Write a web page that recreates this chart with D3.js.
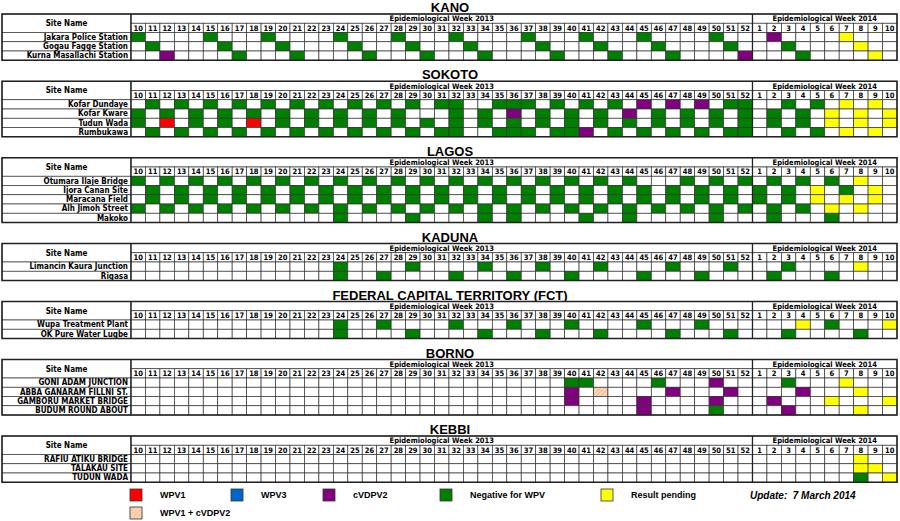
<!DOCTYPE html>
<html>
<head>
<meta charset="utf-8">
<script src="https://cdn.jsdelivr.net/npm/d3@7"></script>
<style>
  body { margin: 0; background: #fff; }
  svg { display: block; }
  .tbl { font-family: "Liberation Sans Narrow", "Arial Narrow", "DejaVu Sans Condensed", sans-serif; font-weight: bold; fill: #000; }
  .title { font-family: "Liberation Sans", Arial, sans-serif; font-weight: bold; font-size: 13px; }
  .leg { font-family: "Liberation Sans", Arial, sans-serif; font-weight: bold; font-size: 9px; }
</style>
</head>
<body>
<svg></svg>
<script>
// week labels
const weeks2013 = [10,11,12,13,14,15,16,17,18,19,20,21,22,23,24,25,26,27,28,29,30,31,32,33,34,35,36,37,38,39,40,41,42,43,44,45,46,47,48,49,50,51,52]
const weeks2014 = [1,2,3,4,5,6,7,8,9,10]

const states = ["KANO", "SOKOTO", "LAGOS", "KADUNA", "FEDERAL CAPITAL TERRITORY (FCT)", "BORNO", "KEBBI"]

// result codes: W1 = WPV1, W3 = WPV3, V2 = cVDPV2, N = negative, Y = pending, WV = WPV1 + cVDPV2
const kanoSites = ["Jakara Police Station", "Gogau Fagge Station", "Kurna Masallachi Station"]
const kanoResults = [
  { y13: { N: [10,15,19,24,28,32,37,41,45,50] }, y14: { V2: [2], Y: [7] } },
  { y13: { N: [11,16,20,25,29,33,38,42,46,51] }, y14: { N: [3], Y: [8] } },
  { y13: { V2: [12,52], N: [17,21,26,30,34,39,43,47] }, y14: { N: [4], Y: [9] } }
]

const sokotoSites = ["Kofar Dundaye", "Kofar Kware", "Tudun Wada", "Rumbukawa"]
const sokotoResults = [
  { y13: { N: [11,13,15,17,19,21,23,25,27,29,31,32,35,36,37,39,41,43,51,52], V2: [45,47,49] }, y14: { N: [3,5], Y: [7,9] } },
  { y13: { N: [10,12,14,16,18,20,22,24,26,28,32,34,38,40,42,46,48,50,52], V2: [36,44] }, y14: { N: [2,4], Y: [6,8,10] } },
  { y13: { N: [10,14,16,20,22,24,26,28,30,32,34,36,38,40,42,44,46,48,50,52], W1: [12,18] }, y14: { N: [2,4], Y: [6,8,10] } },
  { y13: { N: [11,13,15,17,19,21,23,25,27,29,31,32,35,36,37,39,40,43,45,47,49,51,52], V2: [41] }, y14: { N: [3,5], Y: [7,9] } }
]

const lagosSites = ["Otumara Ilaje Bridge", "Ijora Canan Site", "Maracana Field", "Alh Jimoh Street", "Makoko"]
const lagosResults = [
  { y13: { N: [10,12,14,16,18,20,22,24,26,28,30,32,34,36,38,40,42,44,48,50,52] }, y14: { N: [2,4,6], Y: [8] } },
  { y13: { N: [11,13,15,17,19,21,23,25,27,29,31,33,35,37,39,41,43,45,47,49,51] }, y14: { N: [1,3,7], Y: [5,9] } },
  { y13: { N: [11,13,15,17,19,21,23,25,27,29,31,33,35,37,39,41,43,45,47,49,51] }, y14: { N: [1,3], Y: [5,7,9] } },
  { y13: { N: [10,12,14,16,18,20,22,24,26,28,30,32,34,36,38,40,42,44,46,48,50,52] }, y14: { N: [2,4], Y: [6,8] } },
  { y13: { N: [24,29,34,36,41,44,50] }, y14: { N: [2,6] } }
]

const kadunaSites = ["Limancin Kaura Junction", "Rigasa"]
const kadunaResults = [
  { y13: { N: [24,29,34,38,42,47,51] }, y14: { N: [3], Y: [8] } },
  { y13: { N: [24,27,32,36,40,45,49] }, y14: { N: [2,6] } }
]

const fctSites = ["Wupa Treatment Plant", "OK Pure Water Lugbe"]
const fctResults = [
  { y13: { N: [24,27,32,36,40,45,49] }, y14: { Y: [4,10], N: [6] } },
  { y13: { N: [24,29,34,38,42,47,51] }, y14: { N: [3,8] } }
]

const bornoSites = ["GONI ADAM JUNCTION", "ABBA GANARAM FILLNI ST.", "GAMBORU MARKET BRIDGE", "BUDUM ROUND ABOUT"]
const bornoResults = [
  { y13: { N: [40,41,46], V2: [50] }, y14: { N: [3], Y: [7] } },
  { y13: { V2: [40,47,51], WV: [42] }, y14: { V2: [4], Y: [8] } },
  { y13: { V2: [40,45,50] }, y14: { V2: [2], Y: [6,10] } },
  { y13: { V2: [45], N: [50] }, y14: { V2: [3], Y: [8] } }
]

const kebbiSites = ["RAFIU ATIKU BRIDGE", "TALAKAU SITE", "TUDUN WADA"]
const kebbiResults = [
  { y13: {}, y14: { Y: [8] } },
  { y13: {}, y14: { Y: [8,9] } },
  { y13: {}, y14: { N: [8], Y: [10] } }
]

const legendCodes = ["W1", "W3", "V2", "N", "Y", "WV"]
const legendLabels = ["WPV1", "WPV3", "cVDPV2", "Negative for WPV", "Result pending", "WPV1 + cVDPV2"]
const updateNote = "Update:  7 March 2014"

const blocks = [
  { title: states[0], sites: kanoSites, results: kanoResults },
  { title: states[1], sites: sokotoSites, results: sokotoResults },
  { title: states[2], sites: lagosSites, results: lagosResults },
  { title: states[3], sites: kadunaSites, results: kadunaResults },
  { title: states[4], sites: fctSites, results: fctResults },
  { title: states[5], sites: bornoSites, results: bornoResults },
  { title: states[6], sites: kebbiSites, results: kebbiResults }
]

const colors = { W1: "#ff0000", W3: "#0066cc", V2: "#800080", N: "#008000", Y: "#ffff00", WV: "url(#hatch)" }
const grid = "#333"

let width = 900
let height = 521
let left = 2
let nameRight = 131
let right = 897
let rowH = 9.25
let gap = 21

let svg = d3.select("svg").attr("width", width).attr("height", height)

const defs = svg.append("defs")
const pat = defs.append("pattern")
  .attr("id", "hatch")
  .attr("patternUnits", "userSpaceOnUse")
  .attr("width", 3).attr("height", 3)
  .attr("patternTransform", "rotate(45)")
pat.append("rect").attr("width", 3).attr("height", 3).attr("fill", "#fad6b6")
pat.append("line").attr("x1", 0).attr("y1", 0).attr("x2", 0).attr("y2", 3)
  .attr("stroke", "#eaa878").attr("stroke-width", 0.8)

const cols = weeks2013.map(w => "2013-" + w).concat(weeks2014.map(w => "2014-" + w))
const xScale = d3.scaleBand().domain(cols).range([nameRight, right])
const bw = xScale.bandwidth()
const split = xScale("2014-1")

const statusOf = (res, col) => {
  const [yr, wk] = col.split("-")
  const set = yr === "2013" ? res.y13 : res.y14
  for (const k in set) if (set[k].includes(+wk)) return k
  return null
}

let blockTop = 14

blocks.forEach(b => {
  const n = b.sites.length
  const yScale = d3.scaleBand()
    .domain(["epi", "week"].concat(b.sites))
    .range([0, (n + 2) * rowH])
  const bh = yScale.bandwidth()
  const total = (n + 2) * rowH

  const g = svg.append("g").attr("transform", "translate(0," + blockTop + ")")

  g.append("text")
    .attr("class", "title")
    .attr("x", width / 2)
    .attr("y", -6.5)
    .attr("dy", "0.35em")
    .attr("text-anchor", "middle")
    .text(b.title)

  // site name header
  g.append("rect")
    .attr("x", left).attr("y", 0)
    .attr("width", nameRight - left).attr("height", 2 * bh)
    .attr("fill", "#fff").attr("stroke", grid).attr("stroke-width", 0.7)
  g.append("text")
    .attr("class", "tbl")
    .attr("x", (left + nameRight) / 2)
    .attr("y", bh)
    .attr("dy", "0.35em")
    .attr("text-anchor", "middle")
    .style("font-size", "8px")
    .text("Site Name")

  // epidemiological week headers
  const spans = [
    { label: "Epidemiological Week 2013", x0: nameRight, x1: split },
    { label: "Epidemiological Week 2014", x0: split, x1: right }
  ]
  g.selectAll(null).data(spans).join("rect")
    .attr("x", d => d.x0).attr("y", yScale("epi"))
    .attr("width", d => d.x1 - d.x0).attr("height", bh)
    .attr("fill", "#fff").attr("stroke", grid).attr("stroke-width", 0.7)
  g.selectAll(null).data(spans).join("text")
    .attr("class", "tbl")
    .attr("x", d => (d.x0 + d.x1) / 2)
    .attr("y", yScale("epi") + bh / 2)
    .attr("dy", "0.35em")
    .attr("text-anchor", "middle")
    .style("font-size", "7.5px")
    .text(d => d.label)

  // week number row
  g.selectAll(null).data(cols).join("rect")
    .attr("x", c => xScale(c)).attr("y", yScale("week"))
    .attr("width", bw).attr("height", bh)
    .attr("fill", "#fff").attr("stroke", grid).attr("stroke-width", 0.7)
  g.selectAll(null).data(cols).join("text")
    .attr("class", "tbl")
    .attr("x", c => xScale(c) + bw / 2)
    .attr("y", yScale("week") + bh / 2)
    .attr("dy", "0.35em")
    .attr("text-anchor", "middle")
    .style("font-size", "7.5px")
    .text(c => c.split("-")[1])

  // site rows
  b.sites.forEach((s, i) => {
    const res = b.results[i]
    g.append("rect")
      .attr("x", left).attr("y", yScale(s))
      .attr("width", nameRight - left).attr("height", bh)
      .attr("fill", "#fff").attr("stroke", grid).attr("stroke-width", 0.7)
    g.append("text")
      .attr("class", "tbl")
      .attr("x", nameRight - 3)
      .attr("y", yScale(s) + bh / 2)
      .attr("dy", "0.35em")
      .attr("text-anchor", "end")
      .style("font-size", "8px")
      .text(s)
    g.selectAll(null).data(cols).join("rect")
      .attr("x", c => xScale(c)).attr("y", yScale(s))
      .attr("width", bw).attr("height", bh)
      .attr("fill", c => { const k = statusOf(res, c); return k ? colors[k] : "#fff" })
      .attr("stroke", grid).attr("stroke-width", 0.7)
  })

  // heavier frame lines
  g.append("rect")
    .attr("x", left).attr("y", 0)
    .attr("width", right - left).attr("height", total)
    .attr("fill", "none").attr("stroke", "#222").attr("stroke-width", 1.5)
  g.selectAll(null).data([nameRight, split]).join("line")
    .attr("x1", d => d).attr("x2", d => d)
    .attr("y1", 0).attr("y2", total)
    .attr("stroke", "#222").attr("stroke-width", 1.3)

  blockTop += total + gap
})

// legend
const legendX = [130, 231, 323, 440, 601, 130]
const legendRow = [0, 0, 0, 0, 0, 1]
const legY = 489
const leg = svg.append("g")
legendCodes.forEach((c, i) => {
  const ly = legY + legendRow[i] * 18
  leg.append("rect")
    .attr("x", legendX[i]).attr("y", ly)
    .attr("width", 12).attr("height", 12)
    .attr("fill", colors[c]).attr("stroke", "#333").attr("stroke-width", 0.8)
  leg.append("text")
    .attr("class", "leg")
    .attr("x", legendX[i] + 30)
    .attr("y", ly + 6)
    .attr("dy", "0.35em")
    .text(legendLabels[i])
})
leg.append("text")
  .attr("class", "leg")
  .attr("x", 750)
  .attr("y", legY + 6)
  .attr("dy", "0.35em")
  .style("font-style", "italic")
  .style("font-size", "10px")
  .style("white-space", "pre")
  .text(updateNote)
</script>
</body>
</html>
